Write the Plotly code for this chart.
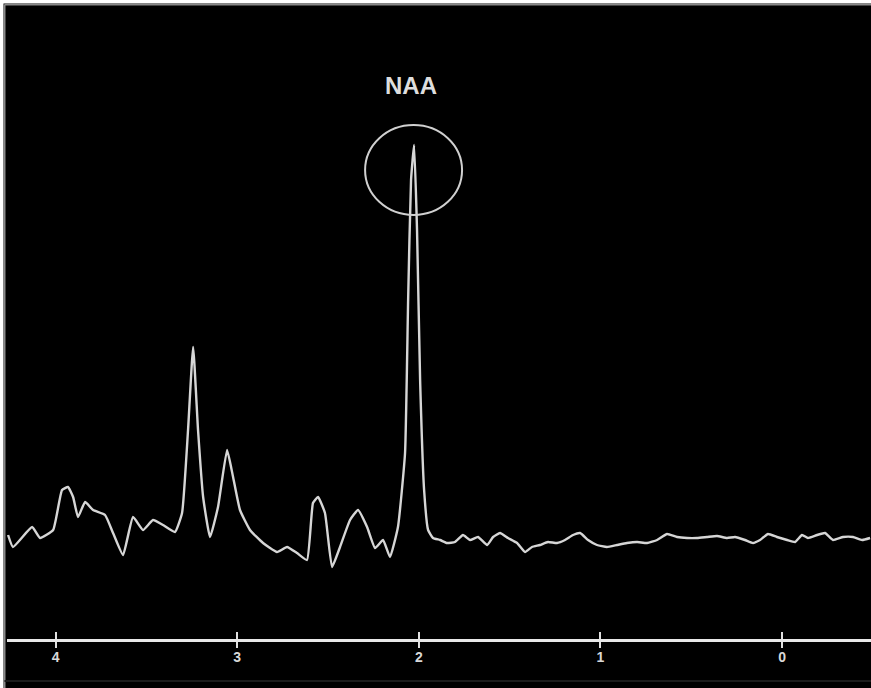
import plotly.graph_objects as go

# chemical shift (ppm) and signal amplitude (arbitrary units)
ppm = [4.262, 4.235, 4.130, 4.086, 4.014, 3.965, 3.932, 3.904, 3.877, 3.838,
       3.794, 3.728, 3.684, 3.629, 3.574, 3.519, 3.464, 3.409, 3.343, 3.304,
       3.271, 3.243, 3.216, 3.188, 3.150, 3.106, 3.056, 3.023, 2.985, 2.930,
       2.858, 2.781, 2.726, 2.671, 2.616, 2.583, 2.555, 2.517, 2.478, 2.434,
       2.379, 2.335, 2.285, 2.241, 2.197, 2.159, 2.115, 2.076, 2.059, 2.043,
       2.026, 2.010, 1.993, 1.971, 1.949, 1.922, 1.883, 1.845, 1.801, 1.757,
       1.718, 1.674, 1.624, 1.591, 1.553, 1.509, 1.459, 1.415, 1.377, 1.333,
       1.289, 1.239, 1.195, 1.151, 1.112, 1.068, 1.019, 0.964, 0.909, 0.854,
       0.798, 0.743, 0.688, 0.633, 0.578, 0.523, 0.468, 0.413, 0.358, 0.303,
       0.259, 0.204, 0.160, 0.121, 0.077, 0.028, -0.028, -0.072, -0.110, -0.143,
       -0.193, -0.237, -0.281, -0.336, -0.391, -0.441, -0.485]
amp = [104, 92, 112, 101, 109, 149, 152, 142, 122, 137,
       129, 124, 106, 84, 122, 109, 119, 114, 107, 126,
       209, 292, 209, 142, 102, 132, 189, 162, 129, 109,
       96, 87, 92, 86, 79, 136, 142, 126, 72, 92,
       119, 129, 112, 91, 99, 82, 112, 186, 339, 459,
       494, 409, 259, 149, 109, 101, 99, 96, 97, 104,
       99, 102, 94, 102, 106, 101, 96, 87, 92, 94,
       97, 96, 99, 104, 106, 99, 94, 92, 94, 96,
       97, 96, 99, 105, 102, 101, 101, 102, 103, 101,
       102, 99, 96, 99, 105, 102, 99, 97, 104, 101,
       104, 106, 99, 102, 102, 99, 101]

tick_vals = [4, 3, 2, 1, 0]
tick_text = ["4", "3", "2", "1", "0"]
peak_label = "NAA"

W, H = 871, 688
ml, mt, mr, mb = 7, 7, 0, 49
pw, ph = W - ml - mr, H - mt - mb

fig = go.Figure()
fig.add_trace(go.Scatter(
    x=ppm, y=amp, mode="lines",
    line=dict(color="#d6d6d6", width=2.4, shape="spline", smoothing=0.4),
    hoverinfo="skip", showlegend=False))
fig.add_trace(go.Scatter(x=[2], y=[0], xaxis="x2", mode="markers",
                         marker=dict(opacity=0), showlegend=False, hoverinfo="skip"))

fig.add_shape(type="circle", xref="x", yref="y",
              x0=2.296, x1=1.762, y0=424, y1=514,
              line=dict(color="#d0d0d0", width=2))
fig.add_annotation(x=2.043, y=554, xref="x", yref="y", text="<b>%s</b>" % peak_label,
                   showarrow=False, font=dict(family="Liberation Sans, Arial", size=24, color="#dedede"))

# frame strips
fig.add_shape(type="rect", xref="paper", yref="paper",
              x0=-ml / pw, x1=-3.5 / pw, y0=-mb / ph, y1=1 + mt / ph,
              fillcolor="white", line=dict(width=0))
fig.add_shape(type="rect", xref="paper", yref="paper",
              x0=-ml / pw, x1=1, y0=1 + 3.5 / ph, y1=1 + mt / ph,
              fillcolor="white", line=dict(width=0))
fig.add_shape(type="line", xref="paper", yref="paper",
              x0=-2.5 / pw, x1=-2.5 / pw, y0=-mb / ph, y1=1 + 2.5 / ph,
              line=dict(color="#8a8a8a", width=2))
fig.add_shape(type="line", xref="paper", yref="paper",
              x0=-2.5 / pw, x1=1, y0=1 + 2.5 / ph, y1=1 + 2.5 / ph,
              line=dict(color="#8a8a8a", width=2))
fig.add_shape(type="line", xref="paper", yref="paper",
              x0=-2.5 / pw, x1=1, y0=-42 / ph, y1=-42 / ph,
              line=dict(color="#1c1c1c", width=2))

axis_common = dict(range=[4.268, -0.490], showgrid=False, zeroline=False,
                   tickvals=tick_vals, tickwidth=2, tickcolor="#e0e0e0")
fig.update_layout(
    width=W, height=H,
    margin=dict(l=ml, t=mt, r=mr, b=mb),
    paper_bgcolor="black", plot_bgcolor="black",
    xaxis=dict(**axis_common, ticktext=["<b>%s</b>" % t for t in tick_text],
               ticks="outside", ticklen=6, ticklabelstandoff=-3,
               showline=True, linecolor="#e8e8e8", linewidth=3,
               tickfont=dict(family="Liberation Sans, Arial", size=14, color="#d8d8d8")),
    xaxis2=dict(**axis_common, overlaying="x", anchor="y", side="bottom",
                ticks="inside", ticklen=7, showticklabels=False, showline=False),
    yaxis=dict(range=[0, 632], visible=False, fixedrange=True),
)
fig.write_html("out.html", config={"displayModeBar": False},
               post_script="document.body.style.margin='0';document.body.style.padding='0';")
